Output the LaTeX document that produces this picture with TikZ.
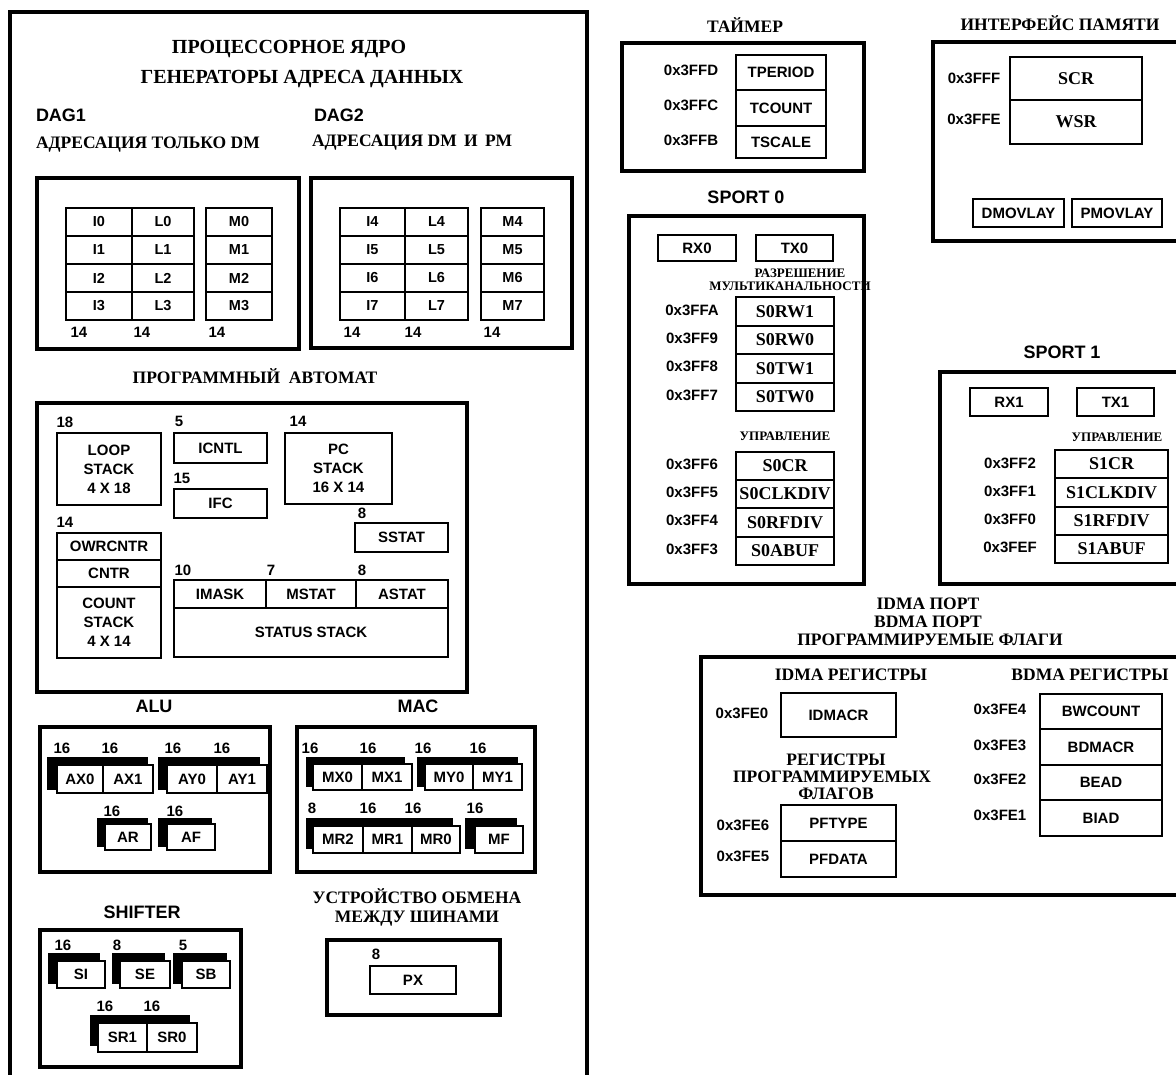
\documentclass[tikz,border=0pt]{standalone}
\usepackage{fontspec}
\setmainfont{Liberation Serif}
\newfontfamily\sansf{Liberation Sans}
\newcommand\rbx[7][]{\node[#1, minimum width={#5-#3}, minimum height={#6-#4}] (#2) at ({(#3+#5)/2},{(#4+#6)/2}) {#7};}
\tikzset{
  every node/.style={inner sep=0pt, outer sep=0pt},
  mainframe/.style={draw, line width=4.5pt},
  frame/.style={draw, line width=3.4pt},
  cell/.style={draw, line width=2.1pt, fill=white, align=center},
  back/.style={fill=black},
  lbl/.style={text height=0.68em, text depth=0pt},
  rmH/.style={lbl, font=\bfseries\fontsize{20}{22}\selectfont},
  rmM/.style={lbl, font=\bfseries\fontsize{17.5}{18}\selectfont},
  rmS/.style={lbl, font=\bfseries\fontsize{13}{13}\selectfont},
  rmR/.style={font=\bfseries\fontsize{18}{20}\selectfont},
  sfH/.style={lbl, font=\sansf\bfseries\fontsize{18}{20}\selectfont},
  sfR/.style={font=\sansf\bfseries\fontsize{15}{19}\selectfont},
  addr/.style={lbl, font=\sansf\bfseries\fontsize{15}{15}\selectfont},
  sfD/.style={font=\sansf\bfseries\fontsize{14.5}{16}\selectfont},
  num/.style={lbl, font=\sansf\bfseries\fontsize{15}{15}\selectfont},
}
\begin{document}
\begin{tikzpicture}[x=1pt,y=-1pt]
\useasboundingbox (0,0) rectangle (1176,1075);
\fill[white] (0,0) rectangle (1176,1075);
\clip (0,0) rectangle (1176,1075);

% ===== processor core =====
\rbx[mainframe]{core}{10}{12}{587}{1095}{}
\node[rmH] (tcore) at (289,50) {ПРОЦЕССОРНОЕ ЯДРО};
\node[rmH] (tdag) at (302,80) {ГЕНЕРАТОРЫ АДРЕСА ДАННЫХ};
\node[sfH, anchor=west] (tdag1) at (36,118) {DAG1};
\node[rmM, anchor=west] (tdag1s) at (36,145) {АДРЕСАЦИЯ ТОЛЬКО DM};
\node[sfH, anchor=west] (tdag2) at (314,118) {DAG2};
\node[rmM, anchor=west] (tdag2s) at (312,143) {АДРЕСАЦИЯ DM\, И\, PM};

\rbx[frame]{dag1}{37}{178}{299}{349}{}
\rbx[frame]{dag2}{311}{178}{572}{348}{}
\foreach \r in {0,1,2,3}{
  \pgfmathsetmacro\ya{208+28*\r}
  \pgfmathsetmacro\yb{\ya+28}
  \pgfmathtruncatemacro\k{\r+4}
  \rbx[cell,sfD]{dI\r}{66}{\ya}{132}{\yb}{I\r}
  \rbx[cell,sfD]{dL\r}{132}{\ya}{194}{\yb}{L\r}
  \rbx[cell,sfD]{dM\r}{206}{\ya}{272}{\yb}{M\r}
  \rbx[cell,sfD]{dI\k}{340}{\ya}{405}{\yb}{I\k}
  \rbx[cell,sfD]{dL\k}{405}{\ya}{468}{\yb}{L\k}
  \rbx[cell,sfD]{dM\k}{481}{\ya}{544}{\yb}{M\k}
}
\node[num] (n1a) at (79,334) {14};
\node[num] (n1b) at (142,334) {14};
\node[num] (n1c) at (217,334) {14};
\node[num] (n2a) at (352,334) {14};
\node[num] (n2b) at (413,334) {14};
\node[num] (n2c) at (492,334) {14};

% ===== program sequencer =====
\node[rmM] (tprog) at (255,380) {ПРОГРАММНЫЙ\ \ АВТОМАТ};
\rbx[frame]{prog}{37}{403}{467}{692}{}
\rbx[cell,sfR]{loop}{57}{433}{161}{505}{LOOP\\STACK\\4 X 18}
\node[num] (nloop) at (65,424) {18};
\rbx[cell,sfR]{icntl}{174}{433}{267}{463}{ICNTL}
\node[num] (nicntl) at (179,423) {5};
\rbx[cell,sfR]{ifc}{174}{489}{267}{518}{IFC}
\node[num] (nifc) at (182,480) {15};
\rbx[cell,sfR]{pcs}{285}{433}{392}{504}{PC\\STACK\\16 X 14}
\node[num] (npcs) at (298,423) {14};
\rbx[cell,sfR]{sstat}{355}{523}{448}{552}{SSTAT}
\node[num] (nsstat) at (362,515) {8};
\rbx[cell,sfR]{owr}{57}{533}{161}{560}{OWRCNTR}
\node[num] (nowr) at (65,524) {14};
\rbx[cell,sfR]{cntr}{57}{560}{161}{587}{CNTR}
\rbx[cell,sfR]{cnts}{57}{587}{161}{658}{COUNT\\STACK\\4 X 14}
\rbx[cell,sfR]{imask}{174}{580}{266}{608}{IMASK}
\rbx[cell,sfR]{mstat}{266}{580}{356}{608}{MSTAT}
\rbx[cell,sfR]{astat}{356}{580}{448}{608}{ASTAT}
\rbx[cell,sfR]{stst}{174}{608}{448}{657}{STATUS STACK}
\node[num] (nimask) at (183,572) {10};
\node[num] (nmstat) at (271,572) {7};
\node[num] (nastat) at (362,572) {8};

% ===== ALU =====
\node[sfH] (talu) at (154,709) {ALU};
\rbx[frame]{alu}{40}{727}{270}{872}{}
\rbx[back]{axb}{47}{757}{148}{790}{}
\rbx[cell,sfR]{ax0}{57}{765}{103}{793}{AX0}
\rbx[cell,sfR]{ax1}{103}{765}{153}{793}{AX1}
\rbx[back]{ayb}{158}{757}{260}{790}{}
\rbx[cell,sfR]{ay0}{167}{765}{217}{793}{AY0}
\rbx[cell,sfR]{ay1}{217}{765}{267}{793}{AY1}
\node[num] (na1) at (62,750) {16};
\node[num] (na2) at (110,750) {16};
\node[num] (na3) at (173,750) {16};
\node[num] (na4) at (222,750) {16};
\rbx[back]{arb}{97}{818}{148}{847}{}
\rbx[cell,sfR]{ar}{105}{824}{151}{850}{AR}
\rbx[back]{afb}{158}{818}{212}{847}{}
\rbx[cell,sfR]{af}{167}{824}{215}{850}{AF}
\node[num] (na5) at (112,813) {16};
\node[num] (na6) at (175,813) {16};

% ===== MAC =====
\node[sfH] (tmac) at (418,709) {MAC};
\rbx[frame]{mac}{297}{727}{535}{872}{}
\rbx[back]{mxb}{306}{757}{405}{787}{}
\rbx[cell,sfR]{mx0}{313}{764}{362}{790}{MX0}
\rbx[cell,sfR]{mx1}{362}{764}{412}{790}{MX1}
\rbx[back]{myb}{417}{757}{518}{787}{}
\rbx[cell,sfR]{my0}{425}{764}{473}{790}{MY0}
\rbx[cell,sfR]{my1}{473}{764}{522}{790}{MY1}
\node[num] (nm1) at (310,750) {16};
\node[num] (nm2) at (368,750) {16};
\node[num] (nm3) at (423,750) {16};
\node[num] (nm4) at (478,750) {16};
\rbx[back]{mrb}{306}{818}{453}{849}{}
\rbx[cell,sfR]{mr2}{313}{826}{363}{853}{MR2}
\rbx[cell,sfR]{mr1}{363}{826}{412}{853}{MR1}
\rbx[cell,sfR]{mr0}{412}{826}{460}{853}{MR0}
\rbx[back]{mfb}{465}{818}{517}{849}{}
\rbx[cell,sfR]{mf}{475}{826}{523}{853}{MF}
\node[num] (nm5) at (312,810) {8};
\node[num] (nm6) at (368,810) {16};
\node[num] (nm7) at (413,810) {16};
\node[num] (nm8) at (475,810) {16};

% ===== shifter =====
\node[sfH] (tshift) at (142,915) {SHIFTER};
\rbx[frame]{shift}{40}{930}{241}{1067}{}
\rbx[back]{sib}{48}{953}{100}{984}{}
\rbx[cell,sfR]{si}{57}{961}{105}{988}{SI}
\rbx[back]{seb}{112}{953}{165}{984}{}
\rbx[cell,sfR]{se}{120}{961}{170}{988}{SE}
\rbx[back]{sbb}{173}{953}{227}{984}{}
\rbx[cell,sfR]{sb}{182}{961}{230}{988}{SB}
\node[num] (ns1) at (63,947) {16};
\node[num] (ns2) at (117,947) {8};
\node[num] (ns3) at (183,947) {5};
\rbx[back]{srb}{90}{1015}{190}{1046}{}
\rbx[cell,sfR]{sr1}{98}{1023}{147}{1052}{SR1}
\rbx[cell,sfR]{sr0}{147}{1023}{197}{1052}{SR0}
\node[num] (ns4) at (105,1008) {16};
\node[num] (ns5) at (152,1008) {16};

% ===== bus exchange =====
\node[rmM] (tpx1) at (417,900) {УСТРОЙСТВО ОБМЕНА};
\node[rmM] (tpx2) at (417,919) {МЕЖДУ ШИНАМИ};
\rbx[frame]{pxf}{327}{940}{500}{1015}{}
\rbx[cell,sfR]{px}{370}{966}{456}{994}{PX}
\node[num] (npx) at (376,956) {8};

% ===== timer =====
\node[rmM] (ttim) at (745,29) {ТАЙМЕР};
\rbx[frame]{tim}{622}{43}{864}{171}{}
\rbx[cell,sfR]{tper}{736}{55}{826}{90}{TPERIOD}
\rbx[cell,sfR]{tcnt}{736}{90}{826}{126}{TCOUNT}
\rbx[cell,sfR]{tscl}{736}{126}{826}{158}{TSCALE}
\node[addr] (a3ffd) at (691,72) {0x3FFD};
\node[addr] (a3ffc) at (691,107) {0x3FFC};
\node[addr] (a3ffb) at (691,142) {0x3FFB};

% ===== memory interface =====
\node[rmM] (tmem) at (1060,27) {ИНТЕРФЕЙС ПАМЯТИ};
\rbx[frame]{mem}{933}{42}{1195}{241}{}
\rbx[cell,rmR]{scr}{1010}{57}{1142}{100}{SCR}
\rbx[cell,rmR]{wsr}{1010}{100}{1142}{144}{WSR}
\node[addr] (a3fff) at (974,80) {0x3FFF};
\node[addr] (a3ffe) at (974,121) {0x3FFE};
\rbx[cell,sfR]{dmov}{973}{199}{1064}{227}{DMOVLAY}
\rbx[cell,sfR]{pmov}{1072}{199}{1162}{227}{PMOVLAY}

% ===== SPORT 0 =====
\node[sfH] (tsp0) at (746,200) {SPORT 0};
\rbx[frame]{sp0}{629}{216}{864}{584}{}
\rbx[cell,sfR]{rx0}{658}{235}{736}{261}{RX0}
\rbx[cell,sfR]{tx0}{756}{235}{833}{261}{TX0}
\node[rmS] (tmc1) at (800,274) {РАЗРЕШЕНИЕ};
\node[rmS] (tmc2) at (790,287) {МУЛЬТИКАНАЛЬНОСТИ};
\rbx[cell,rmR]{s0rw1}{736}{297}{834}{326}{S0RW1}
\rbx[cell,rmR]{s0rw0}{736}{326}{834}{354}{S0RW0}
\rbx[cell,rmR]{s0tw1}{736}{354}{834}{383}{S0TW1}
\rbx[cell,rmR]{s0tw0}{736}{383}{834}{411}{S0TW0}
\node[addr] (a3ffa) at (692,312) {0x3FFA};
\node[addr] (a3ff9) at (692,340) {0x3FF9};
\node[addr] (a3ff8) at (692,368) {0x3FF8};
\node[addr] (a3ff7) at (692,397) {0x3FF7};
\node[rmS] (tctl0) at (785,437) {УПРАВЛЕНИЕ};
\rbx[cell,rmR]{s0cr}{736}{452}{834}{480}{S0CR}
\rbx[cell,rmR]{s0clk}{736}{480}{834}{508}{S0CLKDIV}
\rbx[cell,rmR]{s0rfd}{736}{508}{834}{537}{S0RFDIV}
\rbx[cell,rmR]{s0ab}{736}{537}{834}{565}{S0ABUF}
\node[addr] (a3ff6) at (692,466) {0x3FF6};
\node[addr] (a3ff5) at (692,494) {0x3FF5};
\node[addr] (a3ff4) at (692,522) {0x3FF4};
\node[addr] (a3ff3) at (692,551) {0x3FF3};

% ===== SPORT 1 =====
\node[sfH] (tsp1) at (1062,355) {SPORT 1};
\rbx[frame]{sp1}{940}{372}{1195}{584}{}
\rbx[cell,sfR]{rx1}{970}{388}{1048}{416}{RX1}
\rbx[cell,sfR]{tx1}{1077}{388}{1154}{416}{TX1}
\node[rmS] (tctl1) at (1117,438) {УПРАВЛЕНИЕ};
\rbx[cell,rmR]{s1cr}{1055}{450}{1168}{478}{S1CR}
\rbx[cell,rmR]{s1clk}{1055}{478}{1168}{507}{S1CLKDIV}
\rbx[cell,rmR]{s1rfd}{1055}{507}{1168}{535}{S1RFDIV}
\rbx[cell,rmR]{s1ab}{1055}{535}{1168}{563}{S1ABUF}
\node[addr] (a3ff2) at (1010,465) {0x3FF2};
\node[addr] (a3ff1) at (1010,493) {0x3FF1};
\node[addr] (a3ff0) at (1010,521) {0x3FF0};
\node[addr] (a3fef) at (1010,549) {0x3FEF};

% ===== IDMA / BDMA / flags =====
\node[rmM] (tid1) at (928,606) {IDMA ПОРТ};
\node[rmM] (tid2) at (928,624) {BDMA ПОРТ};
\node[rmM] (tid3) at (930,642) {ПРОГРАММИРУЕМЫЕ ФЛАГИ};
\rbx[frame]{dma}{701}{657}{1195}{895}{}
\node[rmM] (tidr) at (851,677) {IDMA РЕГИСТРЫ};
\rbx[cell,sfR]{idmacr}{781}{693}{896}{737}{IDMACR}
\node[addr] (a3fe0) at (742,715) {0x3FE0};
\node[rmM] (tpf1) at (836,762) {РЕГИСТРЫ};
\node[rmM] (tpf2) at (832,779) {ПРОГРАММИРУЕМЫХ};
\node[rmM] (tpf3) at (836,796) {ФЛАГОВ};
\rbx[cell,sfR]{pftype}{781}{805}{896}{841}{PFTYPE}
\rbx[cell,sfR]{pfdata}{781}{841}{896}{877}{PFDATA}
\node[addr] (a3fe6) at (743,827) {0x3FE6};
\node[addr] (a3fe5) at (743,858) {0x3FE5};
\node[rmM] (tbdr) at (1090,677) {BDMA РЕГИСТРЫ};
\rbx[cell,sfR]{bwc}{1040}{694}{1162}{729}{BWCOUNT}
\rbx[cell,sfR]{bdmacr}{1040}{729}{1162}{765}{BDMACR}
\rbx[cell,sfR]{bead}{1040}{765}{1162}{800}{BEAD}
\rbx[cell,sfR]{biad}{1040}{800}{1162}{836}{BIAD}
\node[addr] (a3fe4) at (1000,711) {0x3FE4};
\node[addr] (a3fe3) at (1000,747) {0x3FE3};
\node[addr] (a3fe2) at (1000,781) {0x3FE2};
\node[addr] (a3fe1) at (1000,817) {0x3FE1};
\end{tikzpicture}
\end{document}
